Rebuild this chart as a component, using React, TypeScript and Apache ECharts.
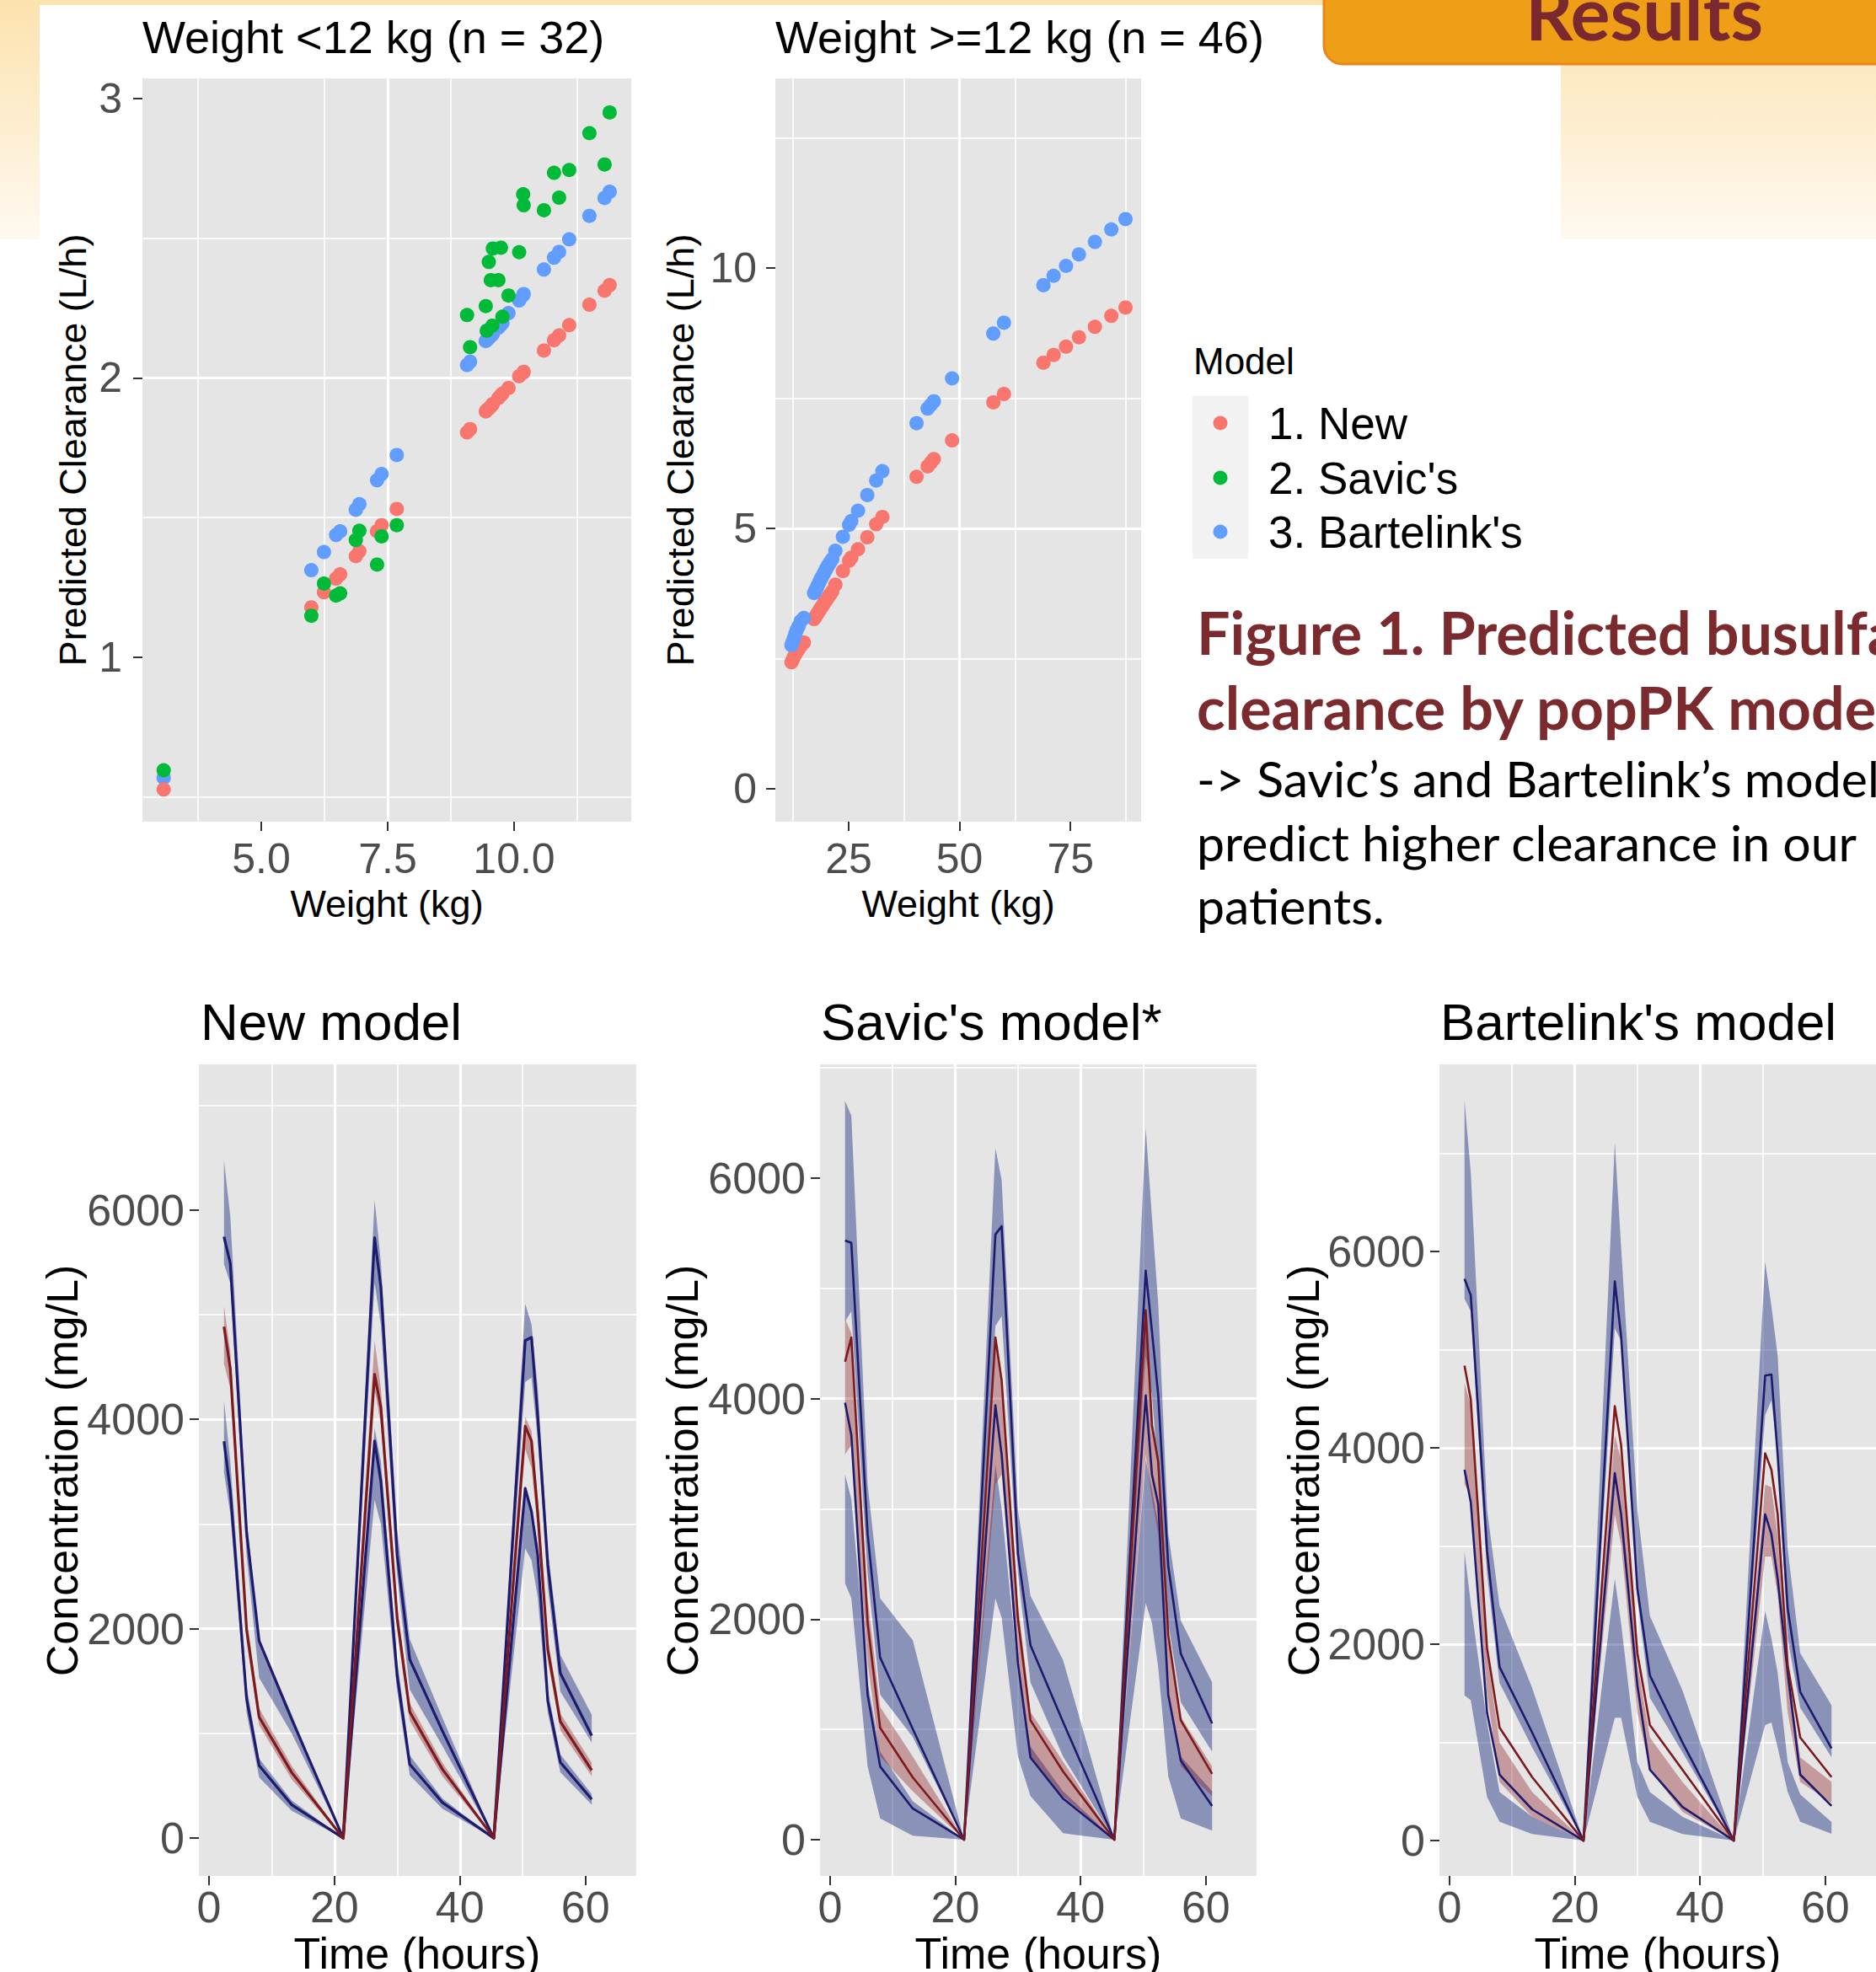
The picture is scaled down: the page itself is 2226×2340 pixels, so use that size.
import React, { useEffect, useRef } from 'react';
import * as echarts from 'echarts';

const W = 2226;
const H = 2340;
const FONT = "'Liberation Sans', Arial, Helvetica, sans-serif";
const CAP_FONT = "Lato, 'Open Sans', sans-serif";

// ---------- Top-left panel: weight < 12 kg (n = 32) ----------
const WT_SMALL = [3.07, 5.99, 6.24, 6.48, 6.56, 6.87, 6.94, 7.29, 7.38, 7.68, 9.07, 9.13, 9.44, 9.46, 9.5, 9.54, 9.57, 9.58, 9.69, 9.74, 9.77, 9.89, 10.1, 10.18, 10.19, 10.59, 10.79, 10.89, 11.09, 11.49, 11.79, 11.89];
const CL_NEW_SMALL = [0.527, 1.179, 1.233, 1.282, 1.297, 1.362, 1.38, 1.451, 1.473, 1.531, 1.805, 1.817, 1.88, 1.885, 1.89, 1.898, 1.905, 1.907, 1.928, 1.938, 1.944, 1.964, 2.006, 2.018, 2.022, 2.098, 2.135, 2.152, 2.189, 2.262, 2.312, 2.332];
const CL_SAVIC_SMALL = [0.596, 1.149, 1.264, 1.221, 1.229, 1.42, 1.453, 1.332, 1.433, 1.473, 2.225, 2.11, 2.257, 2.169, 2.415, 2.35, 2.187, 2.463, 2.35, 2.466, 2.219, 2.295, 2.45, 2.657, 2.618, 2.6, 2.734, 2.645, 2.744, 2.876, 2.764, 2.95];
const CL_BART_SMALL = [0.569, 1.312, 1.377, 1.438, 1.451, 1.528, 1.548, 1.634, 1.656, 1.724, 2.046, 2.058, 2.132, 2.136, 2.142, 2.15, 2.156, 2.158, 2.18, 2.19, 2.197, 2.232, 2.277, 2.296, 2.3, 2.388, 2.43, 2.451, 2.496, 2.58, 2.644, 2.666];

// ---------- Top-middle panel: weight >= 12 kg (n = 46) ----------
const WT_LARGE = [12.1, 12.4, 12.7, 13.0, 13.3, 13.7, 14.2, 14.9, 17.2, 17.5, 17.8, 18.0, 18.3, 18.5, 18.8, 19.0, 19.3, 19.5, 19.8, 20.0, 20.3, 20.6, 20.9, 21.3, 22.0, 23.7, 25.1, 25.6, 27.1, 29.2, 31.2, 32.6, 40.3, 42.8, 43.5, 44.2, 48.3, 57.6, 60.0, 68.9, 71.2, 74.0, 76.9, 80.5, 84.2, 87.4];
const CL_NEW_LARGE = [2.43, 2.48, 2.54, 2.59, 2.63, 2.68, 2.74, 2.81, 3.26, 3.3, 3.34, 3.37, 3.41, 3.44, 3.48, 3.5, 3.54, 3.57, 3.61, 3.63, 3.67, 3.71, 3.74, 3.79, 3.92, 4.18, 4.38, 4.44, 4.6, 4.83, 5.08, 5.22, 5.99, 6.19, 6.26, 6.33, 6.69, 7.42, 7.58, 8.18, 8.33, 8.49, 8.67, 8.87, 9.08, 9.24];
const CL_BART_LARGE = [2.76, 2.83, 2.9, 2.98, 3.05, 3.12, 3.22, 3.28, 3.76, 3.81, 3.86, 3.9, 3.95, 3.99, 4.04, 4.07, 4.12, 4.15, 4.2, 4.23, 4.28, 4.32, 4.36, 4.41, 4.57, 4.84, 5.07, 5.14, 5.34, 5.64, 5.92, 6.1, 7.02, 7.3, 7.37, 7.44, 7.88, 8.74, 8.95, 9.67, 9.85, 10.04, 10.26, 10.5, 10.74, 10.94];

const MODEL_NAMES = ['1. New', "2. Savic's", "3. Bartelink's"];
const MODEL_COLORS = ['#F8766D', '#00BA38', '#619CFF'];

// ---------- Bottom panels: simulated concentration-time profiles ----------
const TIME = [2.4, 3.4, 6, 8, 13.2, 21.4, 26.4, 27.4, 30, 32, 37.2, 45.4, 50.4, 51.4, 52.4, 54, 56, 61];

// New model
const NEW_HI_LINE = [5744, 5489, 2921, 1884, 1134, 0, 5736, 5260, 2700, 1707, 1024, 0, 4752, 4783, 4024, 2612, 1575, 979];
const NEW_HI_LO = [5480, 5303, 2700, 1530, 1000, 0, 5303, 4900, 2500, 1420, 880, 0, 4355, 4400, 3800, 2400, 1400, 913];
const NEW_HI_HI = [6472, 5943, 3050, 1900, 1180, 0, 6097, 5500, 2950, 1900, 1150, 0, 5105, 4906, 4300, 2750, 1750, 1178];
const NEW_MED_LINE = [4884, 4487, 1994, 1156, 626, 0, 4430, 4112, 2100, 1206, 658, 0, 3935, 3794, 3100, 1800, 1112, 649];
const NEW_MED_LO = [4531, 4300, 1880, 1080, 560, 0, 4288, 3950, 1980, 1120, 590, 0, 3715, 3538, 2950, 1700, 1030, 590];
const NEW_MED_HI = [5083, 4650, 2100, 1240, 690, 0, 4752, 4300, 2200, 1290, 720, 0, 4024, 3891, 3250, 1900, 1190, 720];
const NEW_LO_LINE = [3790, 3318, 1332, 693, 318, 0, 3794, 3406, 1550, 706, 340, 0, 3340, 3119, 2700, 1310, 724, 371];
const NEW_LO_LO = [3494, 3100, 1200, 580, 260, 0, 3230, 3000, 1400, 600, 280, 0, 2766, 2656, 2300, 1200, 630, 320];
const NEW_LO_HI = [4178, 3600, 1450, 760, 360, 0, 3913, 3600, 1700, 790, 380, 0, 3362, 3141, 2800, 1400, 800, 420];

// Savic's model
const SAV_HI_LINE = [5435, 5413, 2774, 1652, 1005, 0, 5489, 5565, 2594, 1764, 1068, 0, 5161, 4609, 4030, 2482, 1687, 1055];
const SAV_HI_LO = [4700, 4793, 2414, 1315, 933, 0, 4658, 4748, 2414, 1427, 754, 0, 4389, 4030, 3312, 1966, 1248, 799];
const SAV_HI_HI = [6700, 6566, 3222, 2190, 1809, 0, 6274, 5982, 2998, 2213, 1629, 0, 6454, 5646, 4860, 2774, 1988, 1427];
const SAV_MED_LINE = [4335, 4555, 1966, 1014, 565, 0, 4555, 4165, 2000, 1082, 619, 0, 4802, 3761, 3424, 1854, 1082, 597];
const SAV_MED_LO = [3492, 3581, 1607, 754, 440, 0, 3222, 3312, 1517, 754, 395, 0, 3492, 3088, 2774, 1337, 664, 395];
const SAV_MED_HI = [4726, 4591, 2190, 1203, 754, 0, 4546, 4210, 2145, 1158, 709, 0, 4793, 3761, 3492, 1921, 1113, 664];
const SAV_LO_LINE = [3963, 3671, 1315, 664, 283, 0, 3940, 3492, 1600, 745, 373, 0, 4030, 3312, 3043, 1315, 718, 305];
const SAV_LO_LO = [2325, 2190, 664, 193, 36, 0, 2190, 2011, 754, 395, 58, 0, 2145, 1966, 1562, 574, 193, 81];
const SAV_LO_HI = [3312, 3088, 1427, 799, 350, 0, 3402, 2998, 1517, 844, 440, 0, 3447, 3178, 2863, 1293, 754, 440];

// Bartelink's model
const BAR_HI_LINE = [5722, 5555, 2950, 1768, 1101, 0, 5696, 5141, 2565, 1682, 1000, 0, 4737, 4747, 3929, 2363, 1515, 939];
const BAR_HI_LO = [5518, 5393, 2717, 1606, 949, 0, 5217, 5090, 2464, 1454, 899, 0, 4333, 4484, 3929, 2060, 1353, 848];
const BAR_HI_HI = [7538, 6807, 3373, 2389, 1555, 0, 7110, 6050, 3373, 2288, 1530, 0, 5898, 5444, 4939, 2969, 1909, 1379];
const BAR_MED_LINE = [4838, 4494, 1959, 1151, 646, 0, 4424, 4030, 1909, 1177, 722, 0, 3944, 3777, 3323, 1783, 1050, 646];
const BAR_MED_LO = [3626, 3525, 1500, 596, 242, 0, 3323, 3020, 1303, 722, 293, 0, 2894, 2894, 2500, 1303, 596, 384];
const BAR_MED_HI = [4661, 4434, 1900, 1000, 495, 0, 4131, 3878, 1808, 1050, 596, 0, 3626, 3600, 3100, 1757, 848, 596];
const BAR_LO_LINE = [3777, 3449, 1303, 672, 318, 0, 3742, 3323, 1581, 722, 343, 0, 3323, 3121, 2666, 1707, 672, 354];
const BAR_LO_LO = [1480, 1429, 444, 192, 66, 0, 1252, 1252, 444, 192, 66, 0, 1177, 1202, 949, 495, 192, 70];
const BAR_LO_HI = [2944, 2414, 1202, 495, 242, 0, 2666, 2212, 798, 495, 242, 0, 2338, 2060, 1707, 798, 470, 190];

const PANEL_TITLES = ['Weight <12 kg (n = 32)', 'Weight >=12 kg (n = 46)', 'New model', "Savic's model*", "Bartelink's model"];
const X_TICKS_SMALL = [5, 7.5, 10];
const Y_TICKS_SMALL = [1, 2, 3];
const X_TICKS_LARGE = [25, 50, 75];
const Y_TICKS_LARGE = [0, 5, 10];
const X_TICKS_TIME = [0, 20, 40, 60];
const Y_TICKS_CONC = [0, 2000, 4000, 6000];

const BLUE_LINE = '#1E1B6E';
const RED_LINE = '#7E1A1E';
const BLUE_FILL = 'rgba(12, 32, 122, 0.42)';
const RED_FILL = 'rgba(140, 22, 28, 0.36)';
const PANEL_BG = '#E5E5E5';

const pairs = (xs: number[], ys: number[]) => xs.map((x, i) => [x, ys[i]]);
const plain = (v: number) => String(v);

function makeAxis(gridIndex: number, min: number, max: number, step: number, ticks: number[], fs: number, margin: number, fmt: (v: number) => string = plain) {
  return {
    type: 'value', gridIndex, min, max, minInterval: step, maxInterval: step,
    axisLine: { show: false, onZero: false },
    axisTick: { show: true, length: 11, lineStyle: { color: '#333333', width: 2 }, customValues: ticks },
    axisLabel: { customValues: ticks, color: '#4D4D4D', fontSize: fs, fontFamily: FONT, margin, formatter: (v: number) => fmt(v) },
    splitLine: { show: true, lineStyle: { color: '#FFFFFF', width: 3.2 }, showMinLine: false, showMaxLine: false },
    minorTick: { show: false, splitNumber: 2 },
    minorSplitLine: { show: true, lineStyle: { color: '#FFFFFF', width: 1.6 } },
  };
}

function band(idx: number, lo: number[], hi: number[], fill: string, z: number) {
  return {
    type: 'custom', coordinateSystem: 'cartesian2d', xAxisIndex: idx, yAxisIndex: idx,
    data: TIME.map((t, i) => [t, lo[i], hi[i]]),
    encode: { x: 0, y: [1, 2] },
    silent: true, z,
    renderItem: (params: any, api: any) => {
      if (params.dataIndex !== 0) return null;
      const pts: number[][] = [];
      for (let i = 0; i < TIME.length; i++) pts.push(api.coord([TIME[i], hi[i]]));
      for (let i = TIME.length - 1; i >= 0; i--) pts.push(api.coord([TIME[i], lo[i]]));
      return { type: 'polygon', shape: { points: pts }, style: { fill, stroke: null } };
    },
  };
}
function line(idx: number, ys: number[], color: string, width: number) {
  return {
    type: 'line', xAxisIndex: idx, yAxisIndex: idx, data: pairs(TIME, ys),
    showSymbol: false, symbol: 'none', silent: true, z: 5,
    lineStyle: { color, width, join: 'round' },
  };
}
function scatter(idx: number, xs: number[], ys: number[], color: string, z: number) {
  return {
    type: 'scatter', xAxisIndex: idx, yAxisIndex: idx, data: pairs(xs, ys),
    symbol: 'circle', symbolSize: 17, silent: true, z,
    itemStyle: { color, opacity: 1 },
  };
}

function txt(text: string, x: number, y: number, size: number, opts: any = {}) {
  return {
    type: 'text', x, y, rotation: opts.rotation || 0, z: 50,
    style: {
      text, fill: opts.fill || '#000000',
      font: `${opts.weight || 'normal'} ${size}px ${opts.family || FONT}`,
      align: opts.align || 'left', textAlign: opts.align || 'left',
      verticalAlign: 'middle', textVerticalAlign: 'middle',
    },
  };
}

function buildOption() {
  const grids = [
    { left: 169, top: 93, width: 580, height: 882 },
    { left: 920, top: 93, width: 434, height: 882 },
    { left: 236, top: 1263, width: 519, height: 963 },
    { left: 973, top: 1263, width: 518, height: 963 },
    { left: 1708, top: 1263, width: 518, height: 963 },
  ].map((g) => ({ ...g, show: true, backgroundColor: PANEL_BG, borderWidth: 0, containLabel: false, outerBoundsMode: 'none' }));

  const xAxis = [
    makeAxis(0, 2.65, 12.317, 2.5, X_TICKS_SMALL, 50, 19, (v) => v.toFixed(1)),
    makeAxis(1, 8.47, 90.92, 25, X_TICKS_LARGE, 50, 19),
    makeAxis(2, -1.6, 68.1, 20, X_TICKS_TIME, 52, 11),
    makeAxis(3, -1.6, 68.1, 20, X_TICKS_TIME, 52, 11),
    makeAxis(4, -1.6, 68.1, 20, X_TICKS_TIME, 52, 11),
  ];
  const yAxis = [
    makeAxis(0, 0.412, 3.072, 1, Y_TICKS_SMALL, 50, 24),
    makeAxis(1, -0.63, 13.64, 5, Y_TICKS_LARGE, 50, 22),
    makeAxis(2, -361, 7390, 2000, Y_TICKS_CONC, 52, 17),
    makeAxis(3, -329, 7032, 2000, Y_TICKS_CONC, 52, 17),
    makeAxis(4, -360, 7906, 2000, Y_TICKS_CONC, 52, 17),
  ];

  const series: any[] = [
    scatter(0, WT_SMALL, CL_BART_SMALL, MODEL_COLORS[2], 3),
    scatter(0, WT_SMALL, CL_NEW_SMALL, MODEL_COLORS[0], 4),
    scatter(0, WT_SMALL, CL_SAVIC_SMALL, MODEL_COLORS[1], 5),
    scatter(1, WT_LARGE, CL_NEW_LARGE, MODEL_COLORS[0], 3),
    scatter(1, WT_LARGE, CL_BART_LARGE, MODEL_COLORS[2], 4),
  ];
  const panels = [
    [NEW_HI_LINE, NEW_HI_LO, NEW_HI_HI, NEW_MED_LINE, NEW_MED_LO, NEW_MED_HI, NEW_LO_LINE, NEW_LO_LO, NEW_LO_HI],
    [SAV_HI_LINE, SAV_HI_LO, SAV_HI_HI, SAV_MED_LINE, SAV_MED_LO, SAV_MED_HI, SAV_LO_LINE, SAV_LO_LO, SAV_LO_HI],
    [BAR_HI_LINE, BAR_HI_LO, BAR_HI_HI, BAR_MED_LINE, BAR_MED_LO, BAR_MED_HI, BAR_LO_LINE, BAR_LO_LO, BAR_LO_HI],
  ];
  const lineWidths = [3.2, 2.6, 2.6];
  panels.forEach((p, k) => {
    const idx = k + 2;
    series.push(band(idx, p[1], p[2], BLUE_FILL, 2));
    series.push(band(idx, p[7], p[8], BLUE_FILL, 2));
    series.push(band(idx, p[4], p[5], RED_FILL, 3));
    series.push(line(idx, p[0], BLUE_LINE, lineWidths[k]));
    series.push(line(idx, p[6], BLUE_LINE, lineWidths[k]));
    series.push(line(idx, p[3], RED_LINE, lineWidths[k]));
  });

  const graphic: any[] = [
    { type: 'rect', z: -100, shape: { x: 0, y: 0, width: W, height: 284 },
      style: { fill: new echarts.graphic.LinearGradient(0, 0, 0, 1, [{ offset: 0, color: '#FCE2AE' }, { offset: 1, color: '#FFF9F0' }]) } },
    { type: 'rect', z: -99, shape: { x: 47, y: 6, width: 1805, height: H }, style: { fill: '#FFFFFF' } },
    { type: 'rect', z: -98, shape: { x: 1852, y: 284, width: W - 1852, height: H }, style: { fill: '#FFFFFF' } },
    { type: 'rect', z: -98, shape: { x: 0, y: 284, width: 47, height: H }, style: { fill: '#FFFFFF' } },
    { type: 'rect', z: 40, shape: { x: 1571, y: -40, width: 760, height: 116, r: 22 }, style: { fill: '#EE9F17', stroke: '#E8851D', lineWidth: 3 } },
    txt('Results', 1951, 14, 88, { family: CAP_FONT, weight: 'bold', fill: '#7A2A2E', align: 'center' }),
    // panel titles
    txt(PANEL_TITLES[0], 169, 44, 54),
    txt(PANEL_TITLES[1], 920, 44, 54),
    txt(PANEL_TITLES[2], 238, 1212, 62),
    txt(PANEL_TITLES[3], 974, 1212, 62),
    txt(PANEL_TITLES[4], 1709, 1212, 62),
    // axis titles
    txt('Weight (kg)', 459, 1072, 45, { align: 'center' }),
    txt('Weight (kg)', 1137, 1072, 45, { align: 'center' }),
    txt('Predicted Clearance (L/h)', 86, 534, 45, { align: 'center', rotation: Math.PI / 2 }),
    txt('Predicted Clearance (L/h)', 807, 534, 45, { align: 'center', rotation: Math.PI / 2 }),
    txt('Time (hours)', 495, 2318, 52, { align: 'center' }),
    txt('Time (hours)', 1232, 2318, 52, { align: 'center' }),
    txt('Time (hours)', 1967, 2318, 52, { align: 'center' }),
    txt('Concentration (mg/L)', 74, 1745, 52, { align: 'center', rotation: Math.PI / 2 }),
    txt('Concentration (mg/L)', 810, 1745, 52, { align: 'center', rotation: Math.PI / 2 }),
    txt('Concentration (mg/L)', 1547, 1745, 52, { align: 'center', rotation: Math.PI / 2 }),
    // legend
    txt('Model', 1416, 428, 44),
    { type: 'rect', z: 45, shape: { x: 1415, y: 470, width: 66, height: 193 }, style: { fill: '#F2F2F2' } },
  ];
  const legendY = [502, 567, 631];
  MODEL_NAMES.forEach((name, i) => {
    graphic.push({ type: 'circle', z: 46, shape: { cx: 1448, cy: legendY[i], r: 8.5 }, style: { fill: MODEL_COLORS[i] } });
    graphic.push(txt(name, 1505, legendY[i], 53));
  });
  // caption
  graphic.push(txt('Figure 1. Predicted busulfan', 1420, 750, 70, { family: CAP_FONT, weight: 'bold', fill: '#7B2A2E' }));
  graphic.push(txt('clearance by popPK models', 1420, 839, 70, { family: CAP_FONT, weight: 'bold', fill: '#7B2A2E' }));
  graphic.push(txt('-> Savic\u2019s and Bartelink\u2019s models', 1420, 923, 59, { family: CAP_FONT }));
  graphic.push(txt('predict higher clearance in our', 1420, 999, 59, { family: CAP_FONT }));
  graphic.push(txt('patients.', 1420, 1074, 59, { family: CAP_FONT }));

  return { animation: false, backgroundColor: '#FFFFFF', grid: grids, xAxis, yAxis, series, graphic };
}

export default function App() {
  const ref = useRef<HTMLDivElement>(null);
  useEffect(() => {
    if (!ref.current) return;
    const chart = echarts.init(ref.current, undefined, { renderer: 'svg', width: W, height: H });
    chart.setOption(buildOption() as any);
    return () => chart.dispose();
  }, []);
  return <div ref={ref} style={{ position: 'absolute', left: 0, top: 0, width: W, height: H }} />;
}
